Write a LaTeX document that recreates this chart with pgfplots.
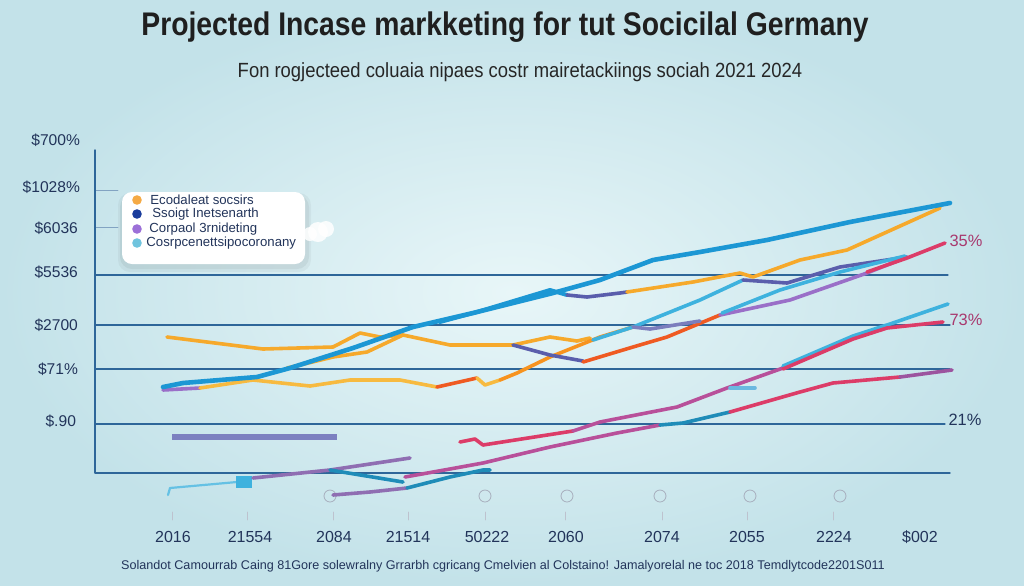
\documentclass[border=0pt]{standalone}
\usepackage{pgfplots}
\pgfplotsset{compat=1.18}
\usepackage{fontspec}
\setmainfont{Liberation Sans}
\definecolor{bgA}{HTML}{E8F6F8}
\definecolor{bgB}{HTML}{C3E2E9}
\definecolor{gridc}{HTML}{2E6699}
\definecolor{txt}{HTML}{22345A}
\definecolor{cblue}{HTML}{1C97D4}
\definecolor{corange}{HTML}{F6A92B}
\definecolor{cyellow}{HTML}{F7BA40}
\definecolor{cor2}{HTML}{F7931F}
\definecolor{cred}{HTML}{EF5A22}
\definecolor{ccrim}{HTML}{DC3C68}
\definecolor{cmag}{HTML}{B8509A}
\definecolor{cpurp}{HTML}{9A6FC8}
\definecolor{cindigo}{HTML}{5A5EAC}
\definecolor{ccyan}{HTML}{3EB2DE}
\definecolor{cteal}{HTML}{1F8CB8}
\definecolor{cbar}{HTML}{7C80C0}
\definecolor{clight}{HTML}{6AB8E0}
\definecolor{lgor}{HTML}{F5AA45}
\definecolor{lgblue}{HTML}{1A3C9C}
\definecolor{lgpurp}{HTML}{9C70D8}
\definecolor{lgcyan}{HTML}{70C4DE}
\definecolor{pinklbl}{HTML}{A8386E}
\begin{document}
\begin{tikzpicture}
\begin{axis}[
  width=512pt, height=292.5pt, scale only axis,
  xmin=0, xmax=1024, ymin=0, ymax=585, y dir=reverse,
  hide axis, clip=false,
  line join=round, line cap=round,
]
% background
\shade[inner color=bgA, outer color=bgB] (axis cs:0,0) rectangle (axis cs:1024,585);

% titles
\node[font=\bfseries\fontsize{14.6}{16}\selectfont, text=black!88] at (axis cs:505,27) {\scalebox{0.97}[1.12]{Projected Incase markketing for tut Socicilal Germany}};
\node[font=\fontsize{9.5}{11}\selectfont, text=black!85] at (axis cs:520,72) {\scalebox{0.97}[1.08]{Fon rogjecteed coluaia nipaes costr mairetackiings sociah 2021 2024}};

% grid / axis
\draw[gridc!60, line width=0.4pt] (axis cs:95,190) -- (axis cs:118,190);
\draw[gridc!60, line width=0.4pt] (axis cs:95,227) -- (axis cs:118,227);
\draw[gridc, line width=0.55pt] (axis cs:95,275) -- (axis cs:948,275);
\draw[gridc, line width=0.55pt] (axis cs:95,325) -- (axis cs:950,325);
\draw[gridc, line width=0.55pt] (axis cs:95,369) -- (axis cs:950,369);
\draw[gridc, line width=0.55pt] (axis cs:95,424) -- (axis cs:945,424);
\draw[gridc, line width=0.7pt] (axis cs:95,150) -- (axis cs:95,473) -- (axis cs:950,473);

% y labels
\begin{scope}[every node/.style={anchor=east, font=\fontsize{7.8}{9}\selectfont, text=txt}]
\node at (axis cs:87,140) {\$700\%};
\node at (axis cs:87,187) {\$1028\%};
\node at (axis cs:85,228) {\$6036};
\node at (axis cs:85,272) {\$5536};
\node at (axis cs:85,325) {\$2700};
\node at (axis cs:85,369) {\$71\%};
\node at (axis cs:83,421) {\$.90};
\end{scope}

% right labels
\node[font=\fontsize{8.2}{9}\selectfont, text=pinklbl] at (axis cs:966,241) {35\%};
\node[font=\fontsize{8.2}{9}\selectfont, text=pinklbl] at (axis cs:966,320) {73\%};
\node[font=\fontsize{8.2}{9}\selectfont, text=txt] at (axis cs:965,420) {21\%};

% x labels
\begin{scope}[every node/.style={font=\fontsize{8}{9}\selectfont, text=txt}]
\node at (axis cs:173,537) {2016};
\node at (axis cs:250,537) {21554};
\node at (axis cs:334,537) {2084};
\node at (axis cs:408,537) {21514};
\node at (axis cs:487,537) {50222};
\node at (axis cs:566,537) {2060};
\node at (axis cs:662,537) {2074};
\node at (axis cs:747,537) {2055};
\node at (axis cs:834,537) {2224};
\node at (axis cs:920,537) {\$002};
\end{scope}
\node[font=\fontsize{6.3}{7}\selectfont, text=txt] at (axis cs:503,566) {Solandot Camourrab Caing 81Gore solewralny Grrarbh cgricang Cmelvien al Colstaino! Jamalyorelal ne toc 2018 Temdlytcode2201S011};

% faint icons below axis
\pgfplotsinvokeforeach{330,485,567,660,750,840}{
  \draw[txt!40, line width=0.4pt] (axis cs:#1,496) circle (3pt);
}
\pgfplotsinvokeforeach{172,247,333,408,485,565,662,747,833}{
  \draw[txt!30, line width=0.4pt] (axis cs:#1,512) -- (axis cs:#1,520);
}

% ---------------- data lines ----------------
% lower group
\addplot[cbar, line width=3pt, line cap=butt] coordinates {(172,437)(337,437)};
\addplot[ccyan!80, line width=1.1pt] coordinates {(168,495)(170,488)(237,482)(253,478)};
\addplot[ccyan, line width=6pt, line cap=butt] coordinates {(236,482)(252,482)};
\addplot[cpurp!85!black!90, line width=1.8pt] coordinates {(253,478)(330,470)(410,458)};
\addplot[cteal, line width=1.8pt] coordinates {(330,470)(403,482)};
\addplot[cpurp!85!black!90, line width=1.8pt] coordinates {(333,495)(370,492)(407,488)};
\addplot[cteal, line width=1.8pt] coordinates {(407,488)(450,477)(483,470)(490,470)};
\addplot[cmag, line width=1.8pt] coordinates {(405,477)(450,469)(483,463)(550,447)(617,433)(660,425)};
\addplot[cteal, line width=1.8pt] coordinates {(660,425)(683,423)(730,412)};
\addplot[ccrim, line width=1.8pt] coordinates {(730,412)(800,392)(833,383)(900,377)};
\addplot[cmag!70!cindigo, line width=1.8pt] coordinates {(900,377)(952,370)};
\addplot[ccrim, line width=1.8pt] coordinates {(460,442)(475,439)(483,445)(573,431)};
\addplot[cmag, line width=1.8pt] coordinates {(573,431)(600,422)(677,407)(727,388)(783,368)};
\addplot[ccyan, line width=1.8pt] coordinates {(783,366)(853,336)(890,324)(948,304)};
\addplot[ccrim, line width=1.8pt] coordinates {(783,369)(853,339)(887,328)(943,322)};
\addplot[clight, line width=1.8pt] coordinates {(730,388)(755,388)};

% middle group
\addplot[cpurp, line width=1.8pt] coordinates {(163,390)(200,388)};
\addplot[cyellow, line width=1.8pt] coordinates {(200,388)(253,380)(310,386)(350,380)(400,380)(437,387)};
\addplot[corange, line width=1.8pt] coordinates {(287,368)(300,365)(333,357)(367,352)(403,335)};
\addplot[corange, line width=1.8pt] coordinates {(167,337)(263,349)(333,347)(360,333)(380,337)(403,335)(450,345)(513,345)(550,337)(577,341)(590,338)};
\addplot[cred, line width=1.8pt] coordinates {(437,387)(477,378)};
\addplot[cyellow, line width=1.8pt] coordinates {(477,378)(485,385)(500,380)};
\addplot[cor2, line width=1.8pt] coordinates {(500,380)(517,373)(550,357)(600,337)(633,327)};
\addplot[cindigo, line width=1.8pt] coordinates {(513,345)(550,355)(583,361)};
\addplot[cred, line width=1.8pt] coordinates {(583,362)(633,347)(667,337)(720,315)};
\addplot[ccyan, line width=1.8pt] coordinates {(593,340)(633,327)(700,300)(743,280)};
\addplot[cindigo, line width=1.8pt] coordinates {(743,280)(787,283)(840,267)(907,257)};
\addplot[cindigo!80, line width=1.8pt] coordinates {(633,327)(650,329)(700,321)};
\addplot[cpurp, line width=1.8pt] coordinates {(720,315)(790,300)(867,273)(907,257)};
\addplot[ccyan, line width=1.8pt] coordinates {(722,313)(780,290)(840,272)(905,256)};
\addplot[ccrim, line width=1.8pt] coordinates {(867,272)(907,258)(945,243)};
\addplot[cblue, line width=2pt] coordinates {(440,322)(477,312)(550,290)(567,295)};
\addplot[cindigo, line width=1.8pt] coordinates {(567,295)(587,297)(620,293)(627,292)};
\addplot[corange, line width=1.8pt] coordinates {(627,292)(693,282)(740,273)(753,277)(800,260)(847,250)(940,208)};
\addplot[cblue, line width=2.3pt] coordinates {(163,387)(183,383)(257,377)(290,368)(353,348)(413,327)(473,313)(513,303)(553,293)(600,280)(653,260)(700,252)(767,240)(850,222)(950,203)};

% legend box with soft shadow, cloud, entries
\fill[black, opacity=0.05, rounded corners=6pt] (axis cs:120,195) rectangle (axis cs:309,269);
\fill[black, opacity=0.04, rounded corners=6pt] (axis cs:118,193) rectangle (axis cs:311,272);
\fill[white, rounded corners=5pt] (axis cs:122,192) rectangle (axis cs:305,264);
\fill[white, opacity=0.85] (axis cs:318,232) circle (5pt);
\fill[white, opacity=0.85] (axis cs:326,229) circle (4pt);
\fill[white, opacity=0.85] (axis cs:310,234) circle (3.5pt);
\fill[lgor]   (axis cs:137,200) circle (2.4pt);
\fill[lgblue] (axis cs:137,214) circle (2.4pt);
\fill[lgpurp] (axis cs:137,229) circle (2.4pt);
\fill[lgcyan] (axis cs:137,243) circle (2.4pt);
\begin{scope}[every node/.style={anchor=west, font=\fontsize{6.6}{7.5}\selectfont, text=txt, inner sep=0pt}]
\node at (axis cs:150,200) {Ecodaleat socsirs};
\node at (axis cs:152,214) {Ssoigt Inetsenarth};
\node at (axis cs:149,229) {Corpaol 3rnideting};
\node at (axis cs:146,243) {Cosrpcenettsipocoronany};
\end{scope}
\end{axis}
\end{tikzpicture}
\end{document}
